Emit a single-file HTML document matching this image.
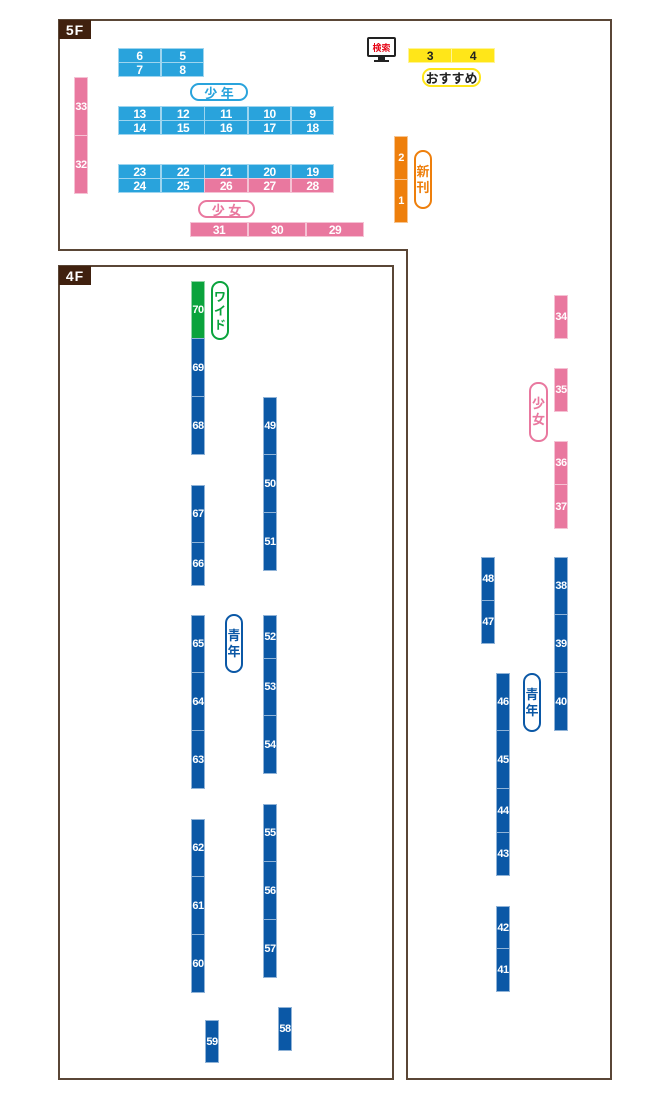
<!DOCTYPE html>
<html><head><meta charset="utf-8"><style>
body{margin:0;width:670px;height:1100px;background:#fff;position:relative;overflow:hidden;font-family:"Liberation Sans","Noto Sans CJK JP",sans-serif}
.b{position:absolute;color:#fff;font-size:11px;font-weight:bold;display:flex;align-items:center;justify-content:center;box-sizing:border-box;border:1px solid rgba(255,255,255,.55);letter-spacing:-0.5px}
.h{font-size:12px}
.lb{background:#29a3dc}.pk{background:#e9789f}.db{background:#0b58a6}.gr{background:#0aa33c}.og{background:#ee7f0c}.ye{background:#ffe619;color:#222}
.p{position:absolute;background:#fff;border:2px solid;box-sizing:border-box;border-radius:9px;display:flex;align-items:center;justify-content:center;font-weight:bold;font-size:13px}
.v{flex-direction:column;line-height:16px;font-size:13px}
.fl{position:absolute;background:#40210f;color:#fff;font-weight:900;font-size:14px;display:flex;align-items:center;justify-content:center;letter-spacing:1px}
.ln{position:absolute;background:#5a4636}
</style></head><body>
<div class="ln" style="left:59px;top:19px;width:553px;height:2px"></div>
<div class="ln" style="left:610px;top:19px;width:2px;height:1061px"></div>
<div class="ln" style="left:406px;top:1078px;width:206px;height:2px"></div>
<div class="ln" style="left:406px;top:250px;width:2px;height:830px"></div>
<div class="ln" style="left:59px;top:249px;width:349px;height:2px"></div>
<div class="ln" style="left:58px;top:19px;width:2px;height:232px"></div>
<div class="ln" style="left:59px;top:265px;width:335px;height:2px"></div>
<div class="ln" style="left:392px;top:265px;width:2px;height:815px"></div>
<div class="ln" style="left:59px;top:1078px;width:335px;height:2px"></div>
<div class="ln" style="left:58px;top:265px;width:2px;height:815px"></div>
<div class="fl" style="left:59px;top:20px;width:32px;height:19px">5F</div>
<div class="fl" style="left:59px;top:266px;width:32px;height:19px">4F</div>

<div class="b lb h" style="left:118px;top:48px;width:43px;height:15px">6</div>
<div class="b lb h" style="left:161px;top:48px;width:43px;height:15px">5</div>
<div class="b lb h" style="left:118px;top:62px;width:43px;height:15px">7</div>
<div class="b lb h" style="left:161px;top:62px;width:43px;height:15px">8</div>
<div class="p" style="left:190px;top:83px;width:58px;height:18px;border-color:#29a3dc;color:#29a3dc">少 年</div>
<div class="b lb h" style="left:118px;top:106px;width:43px;height:15px">13</div>
<div class="b lb h" style="left:161px;top:106px;width:44px;height:15px">12</div>
<div class="b lb h" style="left:204px;top:106px;width:44px;height:15px">11</div>
<div class="b lb h" style="left:248px;top:106px;width:43px;height:15px">10</div>
<div class="b lb h" style="left:291px;top:106px;width:43px;height:15px">9</div>
<div class="b lb h" style="left:118px;top:120px;width:43px;height:15px">14</div>
<div class="b lb h" style="left:161px;top:120px;width:44px;height:15px">15</div>
<div class="b lb h" style="left:204px;top:120px;width:44px;height:15px">16</div>
<div class="b lb h" style="left:248px;top:120px;width:43px;height:15px">17</div>
<div class="b lb h" style="left:291px;top:120px;width:43px;height:15px">18</div>
<div class="b lb h" style="left:118px;top:164px;width:43px;height:15px">23</div>
<div class="b lb h" style="left:161px;top:164px;width:44px;height:15px">22</div>
<div class="b lb h" style="left:204px;top:164px;width:44px;height:15px">21</div>
<div class="b lb h" style="left:248px;top:164px;width:43px;height:15px">20</div>
<div class="b lb h" style="left:291px;top:164px;width:43px;height:15px">19</div>
<div class="b lb h" style="left:118px;top:178px;width:43px;height:15px">24</div>
<div class="b lb h" style="left:161px;top:178px;width:44px;height:15px">25</div>
<div class="b pk h" style="left:204px;top:178px;width:44px;height:15px">26</div>
<div class="b pk h" style="left:248px;top:178px;width:43px;height:15px">27</div>
<div class="b pk h" style="left:291px;top:178px;width:43px;height:15px">28</div>
<div class="p" style="left:198px;top:200px;width:57px;height:18px;border-color:#e9789f;color:#e9789f">少 女</div>
<div class="b pk h" style="left:190px;top:222px;width:58px;height:15px">31</div>
<div class="b pk h" style="left:248px;top:222px;width:58px;height:15px">30</div>
<div class="b pk h" style="left:306px;top:222px;width:58px;height:15px">29</div>
<div class="b pk" style="left:74px;top:77px;width:14px;height:59px">33</div>
<div class="b pk" style="left:74px;top:135px;width:14px;height:59px">32</div>

<div style="position:absolute;left:367px;top:37px;width:29px;height:20px;border:2px solid #222;border-radius:2px;box-sizing:border-box;background:#fff;color:#e60012;font-size:9px;font-weight:bold;display:flex;align-items:center;justify-content:center;font-family:'Noto Sans CJK JP',sans-serif">検索</div>
<div style="position:absolute;left:378px;top:57px;width:7px;height:3px;background:#222"></div>
<div style="position:absolute;left:374px;top:60px;width:15px;height:2px;background:#222"></div>
<div class="b ye h" style="left:408px;top:48px;width:44px;height:15px">3</div>
<div class="b ye h" style="left:451px;top:48px;width:44px;height:15px">4</div>
<div class="p" style="left:422px;top:68px;width:59px;height:19px;border-color:#ffe619;color:#222;font-size:13px">おすすめ</div>
<div class="b og" style="left:394px;top:136px;width:14px;height:44px">2</div>
<div class="b og" style="left:394px;top:179px;width:14px;height:44px">1</div>
<div class="p v" style="left:414px;top:150px;width:18px;height:59px;border-color:#ee7f0c;color:#ee7f0c">新<br>刊</div>

<div class="b pk" style="left:554px;top:295px;width:14px;height:44px">34</div>
<div class="b pk" style="left:554px;top:368px;width:14px;height:44px">35</div>
<div class="b pk" style="left:554px;top:441px;width:14px;height:44px">36</div>
<div class="b pk" style="left:554px;top:484px;width:14px;height:45px">37</div>
<div class="p v" style="left:529px;top:382px;width:19px;height:60px;border-color:#e9789f;color:#e9789f">少<br>女</div>
<div class="b db" style="left:554px;top:557px;width:14px;height:58px">38</div>
<div class="b db" style="left:554px;top:614px;width:14px;height:59px">39</div>
<div class="b db" style="left:554px;top:672px;width:14px;height:59px">40</div>
<div class="b db" style="left:481px;top:557px;width:14px;height:44px">48</div>
<div class="b db" style="left:481px;top:600px;width:14px;height:44px">47</div>
<div class="p v" style="left:523px;top:673px;width:18px;height:59px;border-color:#0b58a6;color:#0b58a6">青<br>年</div>
<div class="b db" style="left:496px;top:673px;width:14px;height:58px">46</div>
<div class="b db" style="left:496px;top:730px;width:14px;height:59px">45</div>
<div class="b db" style="left:496px;top:788px;width:14px;height:45px">44</div>
<div class="b db" style="left:496px;top:832px;width:14px;height:44px">43</div>
<div class="b db" style="left:496px;top:906px;width:14px;height:43px">42</div>
<div class="b db" style="left:496px;top:948px;width:14px;height:44px">41</div>

<div class="b gr" style="left:191px;top:281px;width:14px;height:58px">70</div>
<div class="p v" style="left:211px;top:281px;width:18px;height:59px;border-color:#0aa33c;color:#0aa33c;font-size:12px;line-height:14px">ワ<br>イ<br>ド</div>
<div class="b db" style="left:191px;top:338px;width:14px;height:59px">69</div>
<div class="b db" style="left:191px;top:396px;width:14px;height:59px">68</div>
<div class="b db" style="left:191px;top:485px;width:14px;height:58px">67</div>
<div class="b db" style="left:191px;top:542px;width:14px;height:44px">66</div>
<div class="b db" style="left:191px;top:615px;width:14px;height:58px">65</div>
<div class="b db" style="left:191px;top:672px;width:14px;height:59px">64</div>
<div class="b db" style="left:191px;top:730px;width:14px;height:59px">63</div>
<div class="b db" style="left:191px;top:819px;width:14px;height:58px">62</div>
<div class="b db" style="left:191px;top:876px;width:14px;height:59px">61</div>
<div class="b db" style="left:191px;top:934px;width:14px;height:59px">60</div>
<div class="b db" style="left:205px;top:1020px;width:14px;height:43px">59</div>
<div class="p v" style="left:225px;top:614px;width:18px;height:59px;border-color:#0b58a6;color:#0b58a6">青<br>年</div>
<div class="b db" style="left:263px;top:397px;width:14px;height:58px">49</div>
<div class="b db" style="left:263px;top:454px;width:14px;height:59px">50</div>
<div class="b db" style="left:263px;top:512px;width:14px;height:59px">51</div>
<div class="b db" style="left:263px;top:615px;width:14px;height:44px">52</div>
<div class="b db" style="left:263px;top:658px;width:14px;height:58px">53</div>
<div class="b db" style="left:263px;top:715px;width:14px;height:59px">54</div>
<div class="b db" style="left:263px;top:804px;width:14px;height:58px">55</div>
<div class="b db" style="left:263px;top:861px;width:14px;height:59px">56</div>
<div class="b db" style="left:263px;top:919px;width:14px;height:59px">57</div>
<div class="b db" style="left:278px;top:1007px;width:14px;height:44px">58</div>
</body></html>
